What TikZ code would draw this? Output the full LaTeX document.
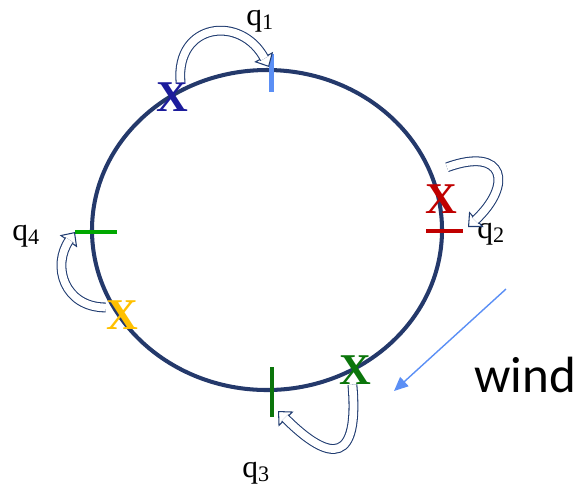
\documentclass[tikz,border=0pt]{standalone}
\usepackage{fontspec}
\setmainfont{Liberation Serif}
\newfontfamily\windfont{Carlito}
\usetikzlibrary{arrows.meta}
\definecolor{Ring}     {HTML}{24396B}
\definecolor{Outline}  {HTML}{1F3B70}
\definecolor{SkyBlue}  {HTML}{5B8FF5}
\definecolor{DeepBlue} {HTML}{1C1C9C}
\definecolor{Crimson}  {HTML}{C00000}
\definecolor{Lime}     {HTML}{00A800}
\definecolor{DarkGreen}{HTML}{0B750B}
\definecolor{Amber}    {HTML}{FFC000}

\begin{document}
\begin{tikzpicture}[x=0.02cm, y=-0.02cm,
  cross/.style={font=\fontsize{25}{25}\selectfont\bfseries, inner sep=0pt},
  qlabel/.style={font=\fontsize{18}{18}\selectfont, inner sep=0pt, anchor=base west},
  hollow/.style={draw=Outline, line width=0.6pt,
    -{Triangle[open, fill=white, length=6.5pt, width=12pt]},
    postaction={draw=Outline, -, double=white, double distance=4.4pt, shorten >=5.5pt}}]
  \useasboundingbox (0,0) rectangle (580,488);
  % Ring, 4px line; centre (267,230)
  \draw[Ring, line width=2.3pt] (267,230) ellipse [x radius=175, y radius=160];
  % Ticks on the ring
  \draw[SkyBlue, line width=2.5pt]   (271.5,54) -- (271.5,92);
  \draw[Crimson, line width=1.9pt]   (426,231) -- (463,231);
  \draw[Lime, line width=2.3pt]      (75,232) -- (117,232);
  \draw[DarkGreen, line width=2.3pt] (272,367) -- (272,417);
  % Crosses
  \node[cross, text=DeepBlue]  (xb) at (172,97)  {X};
  \node[cross, text=Crimson]   (xr) at (441,199) {X};
  \node[cross, text=Amber]     (xy) at (122,315) {X};
  \node[cross, text=DarkGreen] (xg) at (355,370) {X};
  % Labels
  \node[qlabel] (q1) at (246,25)  {q\textsubscript{1}};
  \node[qlabel] (q2) at (477,238) {q\textsubscript{2}};
  \node[qlabel] (q3) at (242,477) {q\textsubscript{3}};
  \node[qlabel] (q4) at (12,240)  {q\textsubscript{4}};
  \node[font=\windfont\fontsize{29}{29}\selectfont, inner sep=0pt, anchor=base west]
    (wind) at (474,392) {wind};
  % Arrow ends
  \coordinate (h1) at (269,67);
  \coordinate (h2) at (468,227);
  \coordinate (h3) at (75,232);
  \coordinate (h4) at (278,411);
  \coordinate (s2) at ([shift={(6,-17)}]xr.north);
  % Hollow curved arrows, X to tick
  \draw[hollow] (xb.60)  to[out=95, in=118, looseness=1.7] (h1);
  \draw[hollow] (s2)     to[out=20, in=43, looseness=2.5]  (h2);
  \draw[hollow] (xy.155) to[out=180, in=-125, looseness=1.3] (h3);
  \draw[hollow] (xg.-100) to[out=-85, in=-45, looseness=2.5] (h4);
  % Wind
  \coordinate (w1) at (506,289);
  \coordinate (w2) at (394,391);
  \draw[SkyBlue, line width=0.8pt, -{Triangle[length=8pt, width=7pt]}] (w1) -- (w2);
\end{tikzpicture}
\end{document}
